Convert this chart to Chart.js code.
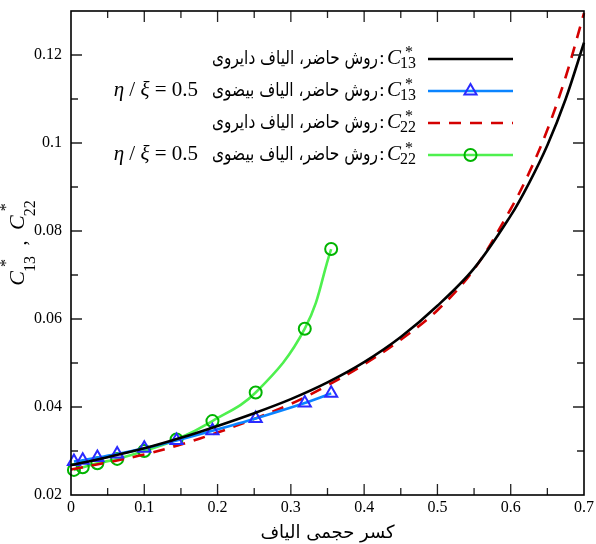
<!DOCTYPE html>
<html><head><meta charset="utf-8">
<script src="https://cdn.jsdelivr.net/npm/chart.js@4/dist/chart.umd.min.js"></script>
<style>html,body{margin:0;padding:0;background:#fff}#wrap{width:596px;height:544px}</style>
</head><body><div id="wrap"><canvas id="c" width="596" height="544"></canvas></div>
<script>
// ---------- data ----------
const xTickLabels = ['0','0.1','0.2','0.3','0.4','0.5','0.6','0.7'];
const yTickLabels = ['0.02','0.04','0.06','0.08','0.1','0.12'];
const xTitle = 'کسر حجمی الیاف';

const circX  = [0,0.05,0.1,0.15,0.2,0.25,0.3,0.35,0.4,0.45,0.5,0.55,0.6,0.625,0.65,0.675,0.7];
const c13Circ = [0.0268,0.0286,0.0306,0.0330,0.0357,0.0386,0.0418,0.0456,0.0502,0.0559,0.0630,0.0715,0.0835,0.0909,0.0995,0.1100,0.1228];
const c22Circ = [0.0258,0.0274,0.0292,0.0315,0.0342,0.0373,0.0407,0.0449,0.0497,0.0553,0.0620,0.0713,0.0850,0.0932,0.1030,0.1150,0.1295];
const ellX   = [0.004,0.016,0.036,0.063,0.1,0.144,0.193,0.252,0.319,0.355];
const c13Ell = [0.0276,0.0279,0.0285,0.0293,0.0306,0.0324,0.0346,0.0374,0.0409,0.0431];
const c22Ell = [0.0257,0.0263,0.0272,0.0282,0.0300,0.0326,0.0368,0.0433,0.0578,0.0759];

const seriesNames = ['روش حاضر، الیاف دایروی','روش حاضر، الیاف بیضوی','روش حاضر، الیاف دایروی','روش حاضر، الیاف بیضوی'];
const seriesSubs  = ['13','13','22','22'];
const seriesRatio = ['','0.5','','0.5'];

// ---------- chart ----------
const SERIF = '"Liberation Serif","DejaVu Serif",serif';
const pts = (xs, ys) => xs.map((x, i) => ({x, y: ys[i]}));

const datasets = [
  {label:'C13 circ', data: pts(circX, c13Circ), borderColor:'#000000', borderWidth:2.6, pointRadius:0, tension:0.35, fill:false, clip:10},
  {label:'C13 ell', data: pts(ellX, c13Ell), borderColor:'#0a84ff', borderWidth:2.6, pointStyle:'triangle', pointRadius:7, pointBorderWidth:2, pointBorderColor:'#2a2aff', pointBackgroundColor:'rgba(0,0,0,0)', tension:0.3, fill:false, clip:10},
  {label:'C22 circ', data: pts(circX, c22Circ), borderColor:'#d40000', borderWidth:2.6, borderDash:[12,9], pointRadius:0, tension:0.35, fill:false, clip:10},
  {label:'C22 ell', data: pts(ellX, c22Ell), borderColor:'#4ef04e', borderWidth:2.6, pointStyle:'circle', pointRadius:6, pointBorderWidth:2, pointBorderColor:'#00b400', pointBackgroundColor:'rgba(0,0,0,0)', tension:0.4, fill:false, clip:10}
];

function drawMath(ctx, x, baseline, sub, size, subDrop, starRise) {
  ctx.textAlign = 'left';
  ctx.textBaseline = 'alphabetic';
  ctx.font = 'italic ' + size + 'px ' + SERIF;
  ctx.fillText('C', x, baseline);
  const cw = ctx.measureText('C').width;
  const ss = Math.round(size * 0.74);
  ctx.font = ss + 'px ' + SERIF;
  ctx.fillText(sub, x + cw - 1, baseline + subDrop);
  const sw = ctx.measureText(sub).width;
  ctx.fillText('*', x + cw + sw * 0.25, baseline - starRise);
  return x + cw - 1 + sw;
}

const decor = {
  id: 'decor',
  afterDraw(chart) {
    const ctx = chart.ctx;
    const a = chart.chartArea;
    const xs = chart.scales.x, ys = chart.scales.y;
    ctx.save();
    // inner ticks
    ctx.strokeStyle = '#222';
    ctx.lineWidth = 1.3;
    ctx.beginPath();
    xs.ticks.forEach(t => {
      const k = Math.round(t.value * 20);
      const px = xs.getPixelForValue(t.value);
      if (px <= a.left + 1 || px >= a.right - 1) return;
      const L = k % 2 === 0 ? 11 : 7;
      ctx.moveTo(px, a.bottom); ctx.lineTo(px, a.bottom - L);
      ctx.moveTo(px, a.top); ctx.lineTo(px, a.top + L);
    });
    ys.ticks.forEach(t => {
      const k = Math.round(t.value * 100);
      const py = ys.getPixelForValue(t.value);
      if (py <= a.top + 1 || py >= a.bottom - 1) return;
      const L = k % 2 === 0 ? 11 : 7;
      ctx.moveTo(a.left, py); ctx.lineTo(a.left + L, py);
      ctx.moveTo(a.right, py); ctx.lineTo(a.right - L, py);
    });
    ctx.stroke();
    // frame
    ctx.strokeStyle = '#000';
    ctx.lineWidth = 1.6;
    ctx.strokeRect(a.left, a.top, a.right - a.left, a.bottom - a.top);

    // legend
    const rowsY = [59, 91, 123, 155];
    const lx0 = 428, lx1 = 513;
    datasets.forEach((ds, i) => {
      const y = rowsY[i];
      ctx.save();
      ctx.strokeStyle = ds.borderColor;
      ctx.lineWidth = ds.borderWidth;
      ctx.setLineDash(ds.borderDash || []);
      ctx.beginPath(); ctx.moveTo(lx0, y); ctx.lineTo(lx1, y); ctx.stroke();
      ctx.setLineDash([]);
      if (ds.pointRadius > 0) {
        ctx.strokeStyle = ds.pointBorderColor;
        ctx.fillStyle = ds.pointBackgroundColor;
        ctx.lineWidth = ds.pointBorderWidth;
        Chart.helpers.drawPoint(ctx, {pointStyle: ds.pointStyle, radius: ds.pointRadius, borderWidth: ds.pointBorderWidth, rotation: 0}, (lx0 + lx1) / 2, y);
      }
      ctx.restore();
      ctx.fillStyle = '#000';
      const base = y + 5;
      drawMath(ctx, 387, base, seriesSubs[i], 21, 4, 7);
      ctx.font = '19px ' + SERIF;
      ctx.textAlign = 'center';
      ctx.fillText(':', 382, base);
      // Persian text, horizontally condensed to the reference width
      ctx.font = '19px "DejaVu Sans"';
      const w = ctx.measureText(seriesNames[i]).width;
      const sx = 166 / w;
      ctx.save();
      ctx.translate(378, base);
      ctx.scale(sx, 1);
      ctx.textAlign = 'right';
      ctx.fillText(seriesNames[i], 0, 0);
      ctx.restore();
      if (seriesRatio[i]) {
        const parts = [['η','italic '],[' / ',''],['ξ','italic '],[' = ',''],[seriesRatio[i],'']];
        let tot = 0;
        parts.forEach(p => { ctx.font = p[1] + '21px ' + SERIF; tot += ctx.measureText(p[0]).width; });
        let x = 198 - tot;
        ctx.textAlign = 'left';
        parts.forEach(p => { ctx.font = p[1] + '21px ' + SERIF; ctx.fillText(p[0], x, base); x += ctx.measureText(p[0]).width; });
      }
    });

    // y axis title
    ctx.save();
    ctx.translate(24, 243);
    ctx.rotate(-Math.PI / 2);
    ctx.fillStyle = '#000';
    ctx.font = 'italic 22px ' + SERIF;
    const cw = ctx.measureText('C').width;
    ctx.font = '16px ' + SERIF;
    const sw = ctx.measureText('13').width;
    const gap = 26;
    const total = 2 * (cw - 1 + sw) + gap;
    let x = -total / 2;
    x = drawMath(ctx, x, 0, '13', 22, 11, 13);
    ctx.font = '20px ' + SERIF;
    ctx.textAlign = 'center';
    ctx.fillText(',', x + gap / 2, 2);
    drawMath(ctx, x + gap, 0, '22', 22, 11, 13);
    ctx.restore();

    ctx.restore();
  }
};

new Chart(document.getElementById('c'), {
  type: 'line',
  data: { datasets },
  options: {
    responsive: false,
    animation: false,
    devicePixelRatio: 1,
    layout: { padding: { top: 11, right: 12, left: 0, bottom: 0 } },
    plugins: { legend: { display: false }, tooltip: { enabled: false } },
    scales: {
      x: {
        type: 'linear', min: 0, max: 0.7,
        grid: { display: false, drawTicks: false },
        border: { display: false },
        ticks: {
          stepSize: 0.05, autoSkip: false, maxRotation: 0, padding: 3, color: '#000',
          font: { family: SERIF, size: 16 },
          callback: v => { const k = Math.round(v * 20); return k % 2 === 0 ? xTickLabels[k / 2] : ''; }
        },
        title: { display: true, text: xTitle, color: '#000', font: { family: '"DejaVu Sans"', size: 18, lineHeight: 1.2 }, padding: 0 },
        afterFit: s => { s.height = 49; s.paddingLeft = 0; s.paddingRight = 0; }
      },
      y: {
        type: 'linear', min: 0.02, max: 0.13,
        grid: { display: false, drawTicks: false },
        border: { display: false },
        ticks: {
          stepSize: 0.01, autoSkip: false, padding: 9, color: '#000',
          font: { family: SERIF, size: 16 },
          callback: v => { const k = Math.round(v * 100); return k % 2 === 0 ? yTickLabels[(k - 2) / 2] : ''; }
        },
        afterFit: s => { s.width = 71; s.paddingTop = 0; s.paddingBottom = 0; }
      }
    }
  },
  plugins: [decor]
});
</script>
</body></html>
